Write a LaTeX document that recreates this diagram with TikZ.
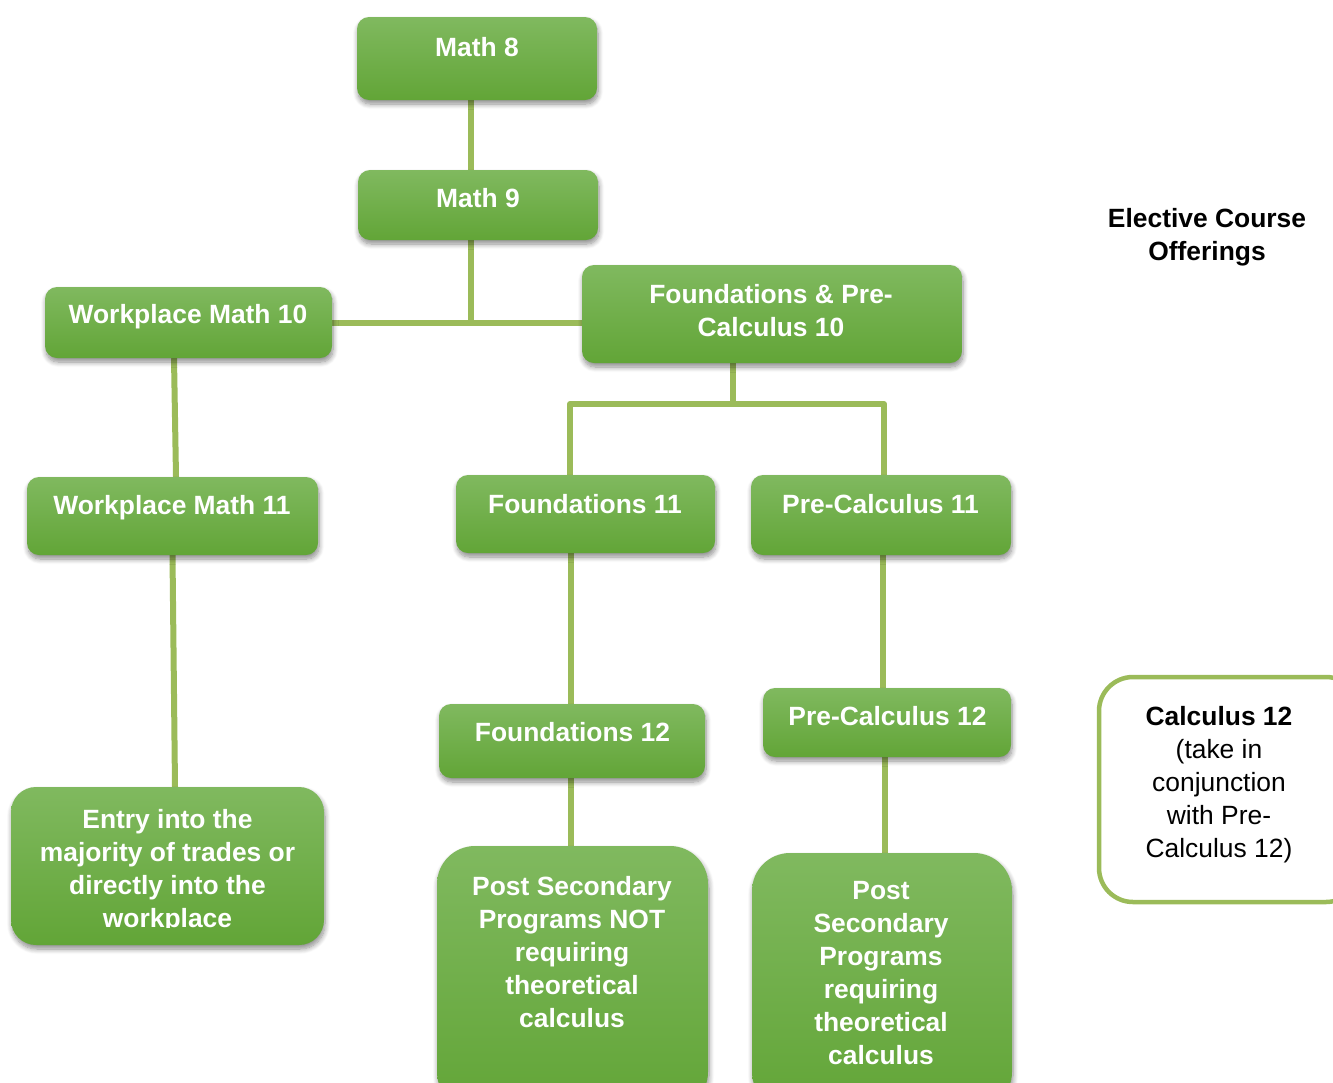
\documentclass[tikz,border=0pt]{standalone}
\usepackage{fontspec}
\setmainfont{Liberation Sans}
\usetikzlibrary{shadows.blur}
\pgfdeclarelayer{bg}
\pgfsetlayers{bg,main}
\definecolor{gtop}{RGB}{128,185,95}
\definecolor{gbot}{RGB}{98,165,55}
\definecolor{connc}{RGB}{155,187,89}
\newcommand{\fstrut}{\rule{0pt}{20pt}}
\begin{document}
\begin{tikzpicture}[x=1pt,y=-1pt,
  gbox/.style={draw=none, rounded corners=12pt, top color=gtop, bottom color=gbot,
    blur shadow={shadow xshift=1pt, shadow yshift=-4pt, shadow blur radius=5pt, shadow blur steps=8, shadow opacity=45}, inner sep=0pt},
  wt/.style={text=white, font=\bfseries\fontsize{26.4}{33}\selectfont, align=center, inner sep=0pt, anchor=north},
  bt/.style={text=black, font=\fontsize{26.4}{33}\selectfont, align=center, inner sep=0pt, anchor=north},
  conn/.style={draw=connc, line width=6pt, line join=round}]
\useasboundingbox (0,0) rectangle (1333,1082);

% boxes
\node[gbox, minimum width=240pt, minimum height=83pt] (m8) at (477,58.5) {};
\node[gbox, minimum width=240pt, minimum height=70pt] (m9) at (478,205) {};
\node[gbox, minimum width=287pt, minimum height=71pt] (wm10) at (188.5,322.5) {};
\node[gbox, minimum width=380pt, minimum height=98pt] (fpc10) at (772,314) {};
\node[gbox, minimum width=291pt, minimum height=78pt] (wm11) at (172.5,516) {};
\node[gbox, minimum width=259pt, minimum height=78pt] (f11) at (585.5,514) {};
\node[gbox, minimum width=260pt, minimum height=80pt] (pc11) at (881,515) {};
\node[gbox, minimum width=266pt, minimum height=74pt] (f12) at (572,741) {};
\node[gbox, minimum width=248pt, minimum height=69pt] (pc12) at (887,722.5) {};
\node[gbox, rounded corners=25pt, minimum width=313pt, minimum height=158pt] (entry) at (167.5,866) {};
\node[gbox, rounded corners=38pt, minimum width=271pt, minimum height=264pt] (psn) at (572.5,978) {};
\node[gbox, rounded corners=38pt, minimum width=260pt, minimum height=257pt] (psr) at (882,981.5) {};
\node[draw=connc, line width=4.5pt, fill=white, rounded corners=34pt, minimum width=261pt, minimum height=225pt, inner sep=0pt] (calc) at (1229.5,789.5) {};

% texts
\node[wt] (m8t) at (477,36.5) {\fstrut Math 8};
\node[wt] (m9t) at (478,187.5) {\fstrut Math 9};
\node[wt] (wm10t) at (188,303.5) {\fstrut Workplace Math 10};
\node[wt] (fpc10t) at (771,283.5) {\fstrut Foundations \& Pre-\\Calculus 10};
\node[wt] (wm11t) at (172,494.5) {\fstrut Workplace Math 11};
\node[wt] (f11t) at (585,493.5) {\fstrut Foundations 11};
\node[wt] (pc11t) at (880.5,493.5) {\fstrut Pre-Calculus 11};
\node[wt] (f12t) at (572.5,721.5) {\fstrut Foundations 12};
\node[wt] (pc12t) at (887.5,705.5) {\fstrut Pre-Calculus 12};
\begin{scope}
\clip (0,0) rectangle (1333,927);
\node[wt] (entryt) at (167.5,808.5) {\fstrut Entry into the\\majority of trades or\\directly into the\\workplace};
\end{scope}
\node[wt] (psnt) at (572,875.5) {\fstrut Post Secondary\\Programs NOT\\requiring\\theoretical\\calculus};
\node[wt] (psrt) at (881,879.5) {\fstrut Post\\Secondary\\Programs\\requiring\\theoretical\\calculus};
\node[bt] (calct) at (1219,705.5) {\fstrut\textbf{Calculus 12}\\(take in\\conjunction\\with Pre-\\Calculus 12)};
\node[bt, font=\bfseries\fontsize{26.4}{33}\selectfont] (elect) at (1207,207.5) {\fstrut Elective Course\\Offerings};

% connectors
\coordinate (j1) at (471,322);
\coordinate (split) at (733,404);
\coordinate (sr) at (884,404);
\begin{pgfonlayer}{bg}
\draw[conn] ([xshift=-6pt]m8.south) -- ([xshift=-7pt]m9.north);
\draw[conn] ([xshift=-7pt]m9.south) -- (j1);
\draw[conn] (wm10.east) -- (wm10.east -| fpc10.west);
\draw[conn] ([xshift=-14.5pt]wm10.south) -- ([xshift=3.5pt]wm11.north);
\draw[conn] (wm11.south) -- ([xshift=7.5pt]entry.north);
\draw[conn] ([xshift=-39pt]fpc10.south) -- (split);
\draw[conn] ([xshift=-15.5pt]f11.north) |- (sr) -- ([xshift=3pt]pc11.north);
\draw[conn] ([xshift=-14.5pt]f11.south) -- ([xshift=-1pt]f12.north);
\draw[conn] ([xshift=-1pt]f12.south) -- ([xshift=-1.5pt]psn.north);
\draw[conn] ([xshift=2pt]pc11.south) -- ([xshift=-4pt]pc12.north);
\draw[conn] ([xshift=-2pt]pc12.south) -- ([xshift=3pt]psr.north);
\end{pgfonlayer}
\end{tikzpicture}
\end{document}
